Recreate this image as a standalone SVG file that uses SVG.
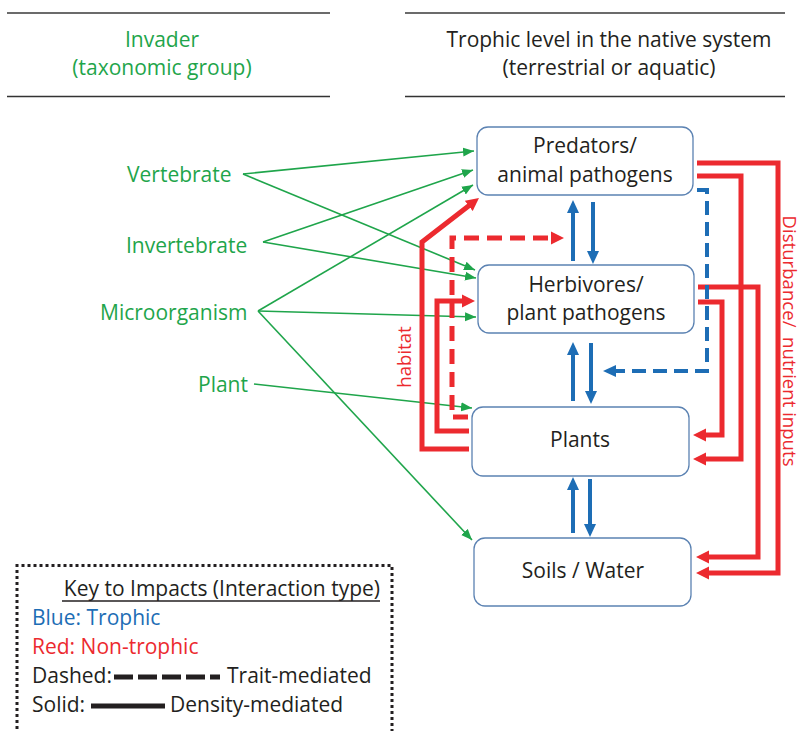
<svg xmlns="http://www.w3.org/2000/svg" width="802" height="731" viewBox="0 0 802 731">
<style>
text{font-family:"Open Sans","Liberation Sans",sans-serif;font-size:21px;fill:#231f20}
.g{fill:#1fa54b}
.r{fill:#ec2a2f}
.b{fill:#1d6db5}
.c{text-anchor:middle}
.rot{font-size:18.6px}
.box{fill:#fff;stroke:#5b82b2;stroke-width:1.3}
.gl{fill:none;stroke:#1fa54b;stroke-width:1.6;marker-end:url(#gh)}
.rl{fill:none;stroke:#ec2a2f;stroke-width:5;marker-end:url(#rh)}
.rd{stroke-dasharray:15 8}
.bl{fill:none;stroke:#1d6db5;stroke-width:4;marker-end:url(#bh)}
.bd{stroke-dasharray:14 7}
</style>
<defs>
<marker id="gh" markerUnits="userSpaceOnUse" viewBox="0 -5 11 10" refX="11" refY="0" markerWidth="11" markerHeight="10" orient="auto"><path d="M0,-4.5 L11,0 L0,4.5 z" fill="#1fa54b"/></marker>
<marker id="rh" markerUnits="userSpaceOnUse" viewBox="0 -7 13 14" refX="1" refY="0" markerWidth="13" markerHeight="14" orient="auto"><path d="M0,-6.5 L13,0 L0,6.5 z" fill="#ec2a2f"/></marker>
<marker id="bh" markerUnits="userSpaceOnUse" viewBox="0 -7 13 14" refX="1" refY="0" markerWidth="13" markerHeight="14" orient="auto"><path d="M0,-6 L13,0 L0,6 z" fill="#1d6db5"/></marker>
</defs>

<g id="header">
<line x1="7" y1="13" x2="330" y2="13" stroke="#6b6b6b" stroke-width="2"/>
<line x1="7" y1="96.5" x2="330" y2="96.5" stroke="#333" stroke-width="1.5"/>
<line x1="405" y1="13" x2="785" y2="13" stroke="#6b6b6b" stroke-width="2"/>
<line x1="405" y1="96.5" x2="785" y2="96.5" stroke="#333" stroke-width="1.5"/>
<text class="g c" x="162" y="47">Invader</text>
<text class="g c" x="162" y="75">(taxonomic group)</text>
<text class="c" x="609" y="47">Trophic level in the native system</text>
<text class="c" x="609" y="75">(terrestrial or aquatic)</text>
</g>

<g id="invaders">
<text id="vertebrate" class="g" x="127" y="182">Vertebrate</text>
<text id="invertebrate" class="g" x="126" y="253">Invertebrate</text>
<text id="microorganism" class="g" x="100" y="320">Microorganism</text>
<text id="plant" class="g" x="198" y="392">Plant</text>
</g>

<g id="connectors">
<path class="gl" d="M243,174 L474,151"/>
<path class="gl" d="M243,174 L475,270"/>
<path class="gl" d="M263,242 L473,170"/>
<path class="gl" d="M263,242 L476,278"/>
<path class="gl" d="M258,311 L473,185"/>
<path class="gl" d="M258,311 L476,317"/>
<path class="gl" d="M258,311 L472,540"/>
<path class="gl" d="M254,384 L472,408"/>

<path class="rl" d="M697,163 H778 V573 H708"/>
<path class="rl" d="M697,176 H741 V459 H705"/>
<path class="rl" d="M698,287 H758 V557 H708"/>
<path class="rl" d="M698,302 H722 V435 H705"/>

<path class="rl" d="M469,449 H422 V242 L469.5,205.3"/>
<path class="rl" d="M469,431 H437 V301 H463"/>
<path class="rl rd" d="M468,417 H452 V238 H552"/>

<path class="bl bd" d="M697,190 H707 V371 H615"/>
<path class="bl" d="M573,261 V212"/>
<path class="bl" d="M593,202 V252"/>
<path class="bl" d="M573,401 V354"/>
<path class="bl" d="M591,343 V392"/>
<path class="bl" d="M573,533 V489"/>
<path class="bl" d="M590,479 V525"/>
</g>

<g id="predators">
<rect class="box" x="477" y="127" width="216" height="68" rx="11"/>
<text class="c" x="585" y="153">Predators/</text>
<text class="c" x="585" y="182">animal pathogens</text>
</g>
<g id="herbivores">
<rect class="box" x="478" y="265" width="216" height="68" rx="11"/>
<text class="c" x="586" y="292">Herbivores/</text>
<text class="c" x="586" y="320">plant pathogens</text>
</g>
<g id="plants">
<rect class="box" x="472" y="407" width="217" height="69" rx="11"/>
<text class="c" x="580" y="447">Plants</text>
</g>
<g id="soils">
<rect class="box" x="474" y="538" width="217" height="68" rx="11"/>
<text class="c" x="583" y="578">Soils / Water</text>
</g>

<g id="labels">
<text class="r c rot" transform="translate(411,357) rotate(-90)">habitat</text>
<text class="r c rot" transform="translate(783,341) rotate(90)" xml:space="preserve">Disturbance/  nutrient inputs</text>
</g>

<g id="key">
<path d="M17,735 V565.5 H392 V735" fill="none" stroke="#231f20" stroke-width="3" stroke-dasharray="3 3"/>
<text x="380" y="596" style="text-anchor:end">Key to Impacts (Interaction type)</text>
<line x1="62" y1="601" x2="380" y2="601" stroke="#231f20" stroke-width="1.5"/>
<text class="b" x="32" y="625">Blue: Trophic</text>
<text class="r" x="32" y="654">Red: Non-trophic</text>
<text x="32" y="683">Dashed:</text>
<line x1="114" y1="677" x2="220" y2="677" stroke="#231f20" stroke-width="5" stroke-dasharray="19 5"/>
<text x="227" y="683">Trait-mediated</text>
<text x="32" y="712">Solid:</text>
<line x1="91" y1="706" x2="165" y2="706" stroke="#231f20" stroke-width="5"/>
<text x="170" y="712">Density-mediated</text>
</g>
</svg>
